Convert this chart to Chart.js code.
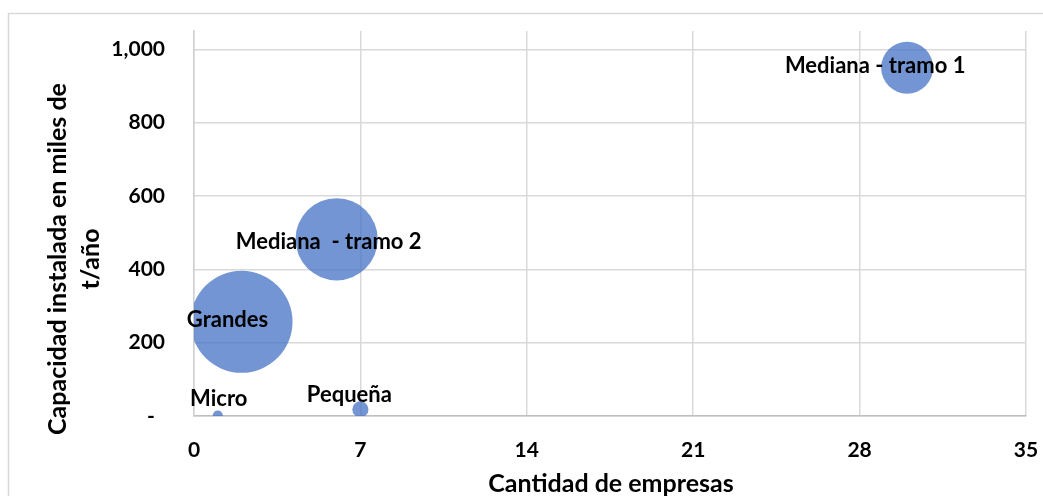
<!DOCTYPE html>
<html>
<head>
<meta charset="utf-8">
<script src="https://cdn.jsdelivr.net/npm/chart.js@4"></script>
<style>
  html, body { margin: 0; padding: 0; background: #fff; }
  #grafico { display: block; }
</style>
</head>
<body>
<canvas id="grafico" width="1043" height="496"></canvas>
<script>
const etiquetas = ["Micro", "Pequeña", "Grandes", "Mediana  - tramo 2", "Mediana - tramo 1"];
const empresas = [1, 7, 2, 6, 30];
const capacidad = [1, 18, 257, 482, 950];
const tamano = [1, 2.5, 100, 65, 26]; // tamaño relativo de la burbuja
const ticksX = [0, 7, 14, 21, 28, 35];
const ticksY = [0, 200, 400, 600, 800, 1000];

// desplazamiento de cada etiqueta respecto al centro de su burbuja (px)
const desplaz = [[1, -17], [-11, -14], [-14, -2], [-8, 3], [-32, -2]];

const FUENTE = "Lato, 'Open Sans', sans-serif";
const radioMax = 51;
const maxTam = Math.max(...tamano);

const puntos = empresas.map((x, i) => ({
  x: x,
  y: capacidad[i],
  r: radioMax * Math.sqrt(tamano[i] / maxTam)
}));

function sinRelleno(ax) {
  ax.paddingLeft = 0;
  ax.paddingRight = 0;
  ax.paddingTop = 0;
  ax.paddingBottom = 0;
}

const marco = {
  id: "marco",
  beforeDraw(chart) {
    const c = chart.ctx;
    c.save();
    c.fillStyle = "#fff";
    c.fillRect(0, 0, chart.width, chart.height);
    c.strokeStyle = "#d9d9d9";
    c.lineWidth = 1.5;
    c.strokeRect(8.5, 13.5, chart.width + 10, chart.height + 10);
    c.restore();
  }
};

const textos = {
  id: "textos",
  afterDatasetsDraw(chart) {
    const c = chart.ctx;
    const meta = chart.getDatasetMeta(0);
    c.save();
    c.fillStyle = "#000";
    c.textAlign = "center";
    c.textBaseline = "middle";
    c.font = "bold 22px " + FUENTE;
    meta.data.forEach((p, i) => {
      c.fillText(etiquetas[i], p.x + desplaz[i][0], p.y + desplaz[i][1]);
    });
    // títulos de ejes
    c.font = "bold 25px " + FUENTE;
    c.fillText("Cantidad de empresas", 611, 484);
    c.translate(74, 259);
    c.rotate(-Math.PI / 2);
    c.fillText("Capacidad instalada en miles de", 0, -16);
    c.fillText("t/año", 0, 17);
    c.restore();
  }
};

new Chart(document.getElementById("grafico").getContext("2d"), {
  type: "bubble",
  data: {
    labels: etiquetas,
    datasets: [{
      data: puntos,
      backgroundColor: "rgba(68,114,196,0.75)",
      borderWidth: 0,
      hoverBorderWidth: 0,
      clip: 0
    }]
  },
  options: {
    responsive: false,
    animation: false,
    layout: { autoPadding: false, padding: { top: 31, right: 17, left: 0, bottom: 0 } },
    plugins: {
      legend: { display: false },
      tooltip: { enabled: false }
    },
    scales: {
      x: {
        type: "linear",
        min: 0,
        max: 35,
        afterBuildTicks(ax) { ax.ticks = ticksX.map(v => ({ value: v })); },
        afterFit(ax) { ax.height = 80; sinRelleno(ax); },
        grid: { color: "#d9d9d9", lineWidth: 1.5, drawTicks: false },
        border: { color: "#bfbfbf", width: 1.5 },
        ticks: {
          padding: 22,
          color: "#000",
          font: { family: FUENTE, size: 21, weight: "bold" }
        }
      },
      y: {
        type: "linear",
        min: 0,
        max: 1050,
        afterBuildTicks(ax) { ax.ticks = ticksY.map(v => ({ value: v })); },
        afterFit(ax) { ax.width = 194; sinRelleno(ax); },
        grid: { color: "#d9d9d9", lineWidth: 1.5, drawTicks: false },
        border: { color: "#d0d0d0", width: 1.5 },
        ticks: {
          padding: 29,
          color: "#000",
          font: { family: FUENTE, size: 21, weight: "bold" },
          callback: v => v === 0 ? "-  " : v.toLocaleString("en-US")
        }
      }
    }
  },
  plugins: [marco, textos]
});
</script>
</body>
</html>
